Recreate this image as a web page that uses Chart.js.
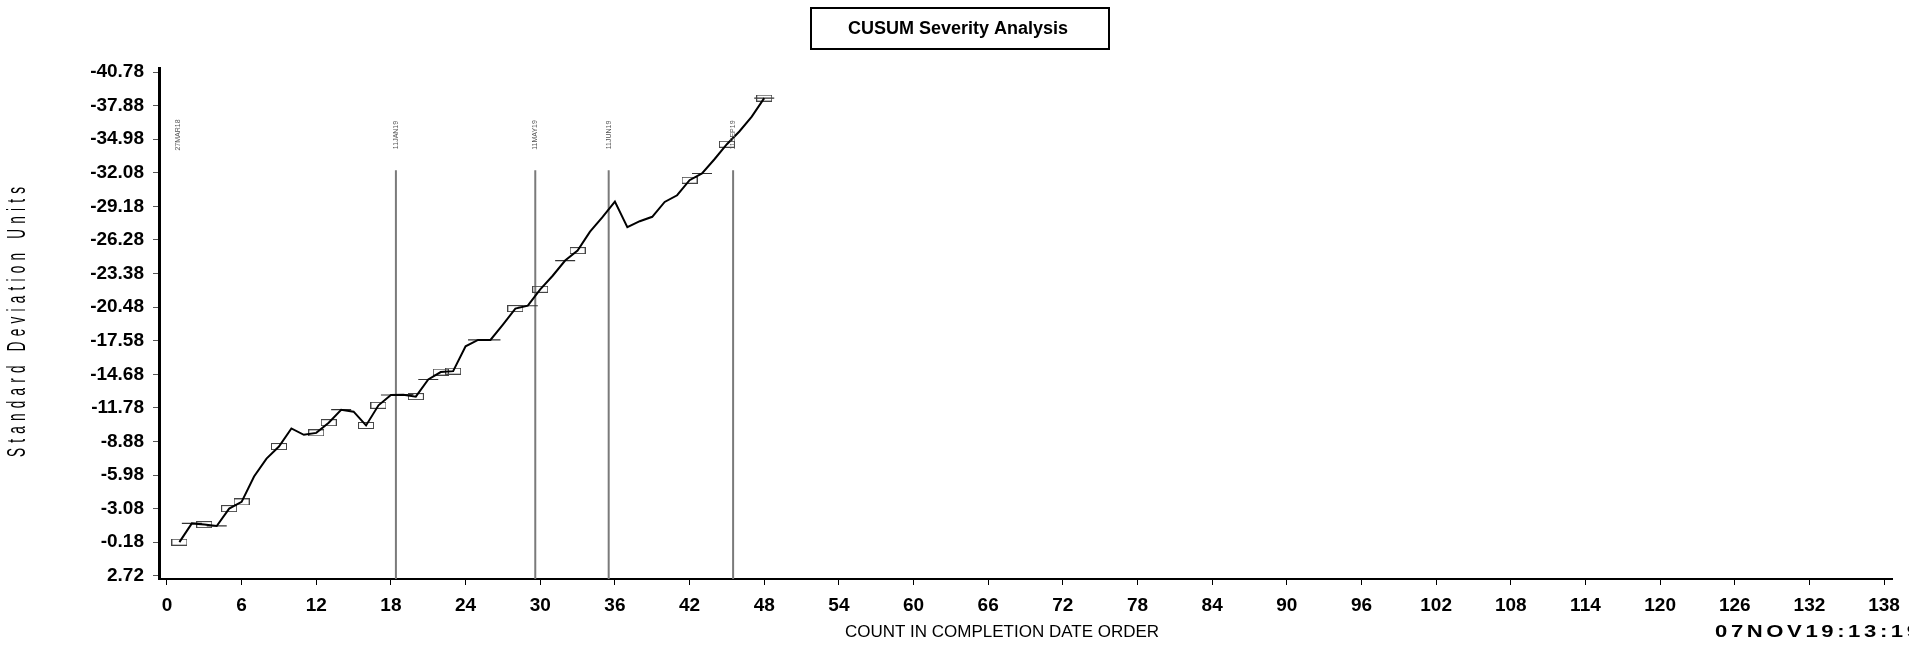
<!DOCTYPE html>
<html>
<head>
<meta charset="utf-8">
<title>CUSUM Severity Analysis</title>
<script src="https://cdn.jsdelivr.net/npm/chart.js@4.4.1/dist/chart.umd.min.js"></script>
<style>
    html, body { margin: 0; padding: 0; background: #fff; }
    #wrap { width: 1909px; height: 645px; position: relative; }
</style>
</head>
<body>
<div id="wrap"><canvas id="cusum-chart"></canvas></div>
<script>
// count in completion date order and the cusum
const counts = [1, 2, 3, 4, 5, 6, 7, 8, 9, 10, 11, 12, 13, 14, 15, 16, 17, 18, 19, 20, 21, 22, 23, 24,
    25, 26, 27, 28, 29, 30, 31, 32, 33, 34, 35, 36, 37, 38, 39, 40, 41, 42, 43, 44, 45, 46, 47, 48];
const cusumValues = [-0.18, -1.80, -1.70, -1.58, -3.08, -3.66, -5.85, -7.40, -8.44, -10.00, -9.45, -9.62,
    -10.50, -11.62, -11.45, -10.26, -12.00, -12.89, -12.92, -12.75, -14.23, -14.87, -14.95, -17.10,
    -17.65, -17.65, -18.97, -20.35, -20.60, -22.02, -23.19, -24.50, -25.36, -27.00, -28.25, -29.60,
    -27.39, -27.90, -28.28, -29.56, -30.14, -31.44, -32.02, -33.25, -34.55, -35.65, -36.93, -38.53];

// counts that carry a box symbol / a dash symbol
const boxCounts = [1, 3, 5, 6, 9, 12, 13, 16, 17, 20, 22, 23, 28, 30, 33, 42, 45, 48];
const dashCounts = [2, 4, 14, 18, 19, 21, 25, 26, 29, 32, 43, 48];

// reference events
const eventLabelCounts = [0.9, 18.4, 29.6, 35.5, 45.5];
const eventLabels = ['27MAR18', '11JAN19', '11MAY19', '11JUN19', '11SEP19'];
const eventLineCounts = [18.4, 29.6, 35.5, 45.5];
const eventLineTop = -32.3;

const yTicks = [-40.78, -37.88, -34.98, -32.08, -29.18, -26.28, -23.38, -20.48, -17.58, -14.68,
    -11.78, -8.88, -5.98, -3.08, -0.18, 2.72];
const xTicks = [0, 6, 12, 18, 24, 30, 36, 42, 48, 54, 60, 66, 72, 78, 84, 90, 96, 102, 108, 114,
    120, 126, 132, 138];

const chartTitle = 'CUSUM Severity Analysis';
const xTitle = 'COUNT IN COMPLETION DATE ORDER';
const yTitle = 'Standard Deviation Units';
const stamp = '07NOV19:13:19';

const X_MIN = -0.64, X_MAX = 138.7;
const Y_MIN = -41.13, Y_MAX = 3.0;

function valueAt(c) {
    return cusumValues[counts.indexOf(c)];
}

// small open rectangle used as the box symbol
function makeBox() {
    const c = document.createElement('canvas');
    c.width = 16;
    c.height = 7;
    const g = c.getContext('2d');
    g.strokeStyle = '#444';
    g.lineWidth = 1;
    g.strokeRect(0.5, 0.5, 15, 6);
    return c;
}

// draw text centred on the origin, squeezed by sx and spaced out to fill len
function fitText(ctx, text, len, sx) {
    ctx.letterSpacing = '0px';
    const w = ctx.measureText(text).width * sx;
    const gap = (len - w) / (text.length - 1) / sx;
    ctx.letterSpacing = gap + 'px';
    ctx.scale(sx, 1);
    ctx.fillText(text, -len / 2 / sx, 0);
    ctx.letterSpacing = '0px';
}

const decorations = {
    id: 'decorations',
    afterDraw(chart) {
        const ctx = chart.ctx;
        const xs = chart.scales.x;

        // title box
        ctx.save();
        ctx.strokeStyle = '#000';
        ctx.lineWidth = 2;
        ctx.strokeRect(811, 8, 298, 41);
        ctx.fillStyle = '#000';
        ctx.font = 'bold 18px "Liberation Sans"';
        ctx.textAlign = 'center';
        ctx.textBaseline = 'middle';
        ctx.fillText(chartTitle, 958, 29);
        ctx.restore();

        // y axis title, narrow and spaced out
        ctx.save();
        ctx.fillStyle = '#000';
        ctx.font = '26px "Liberation Sans"';
        ctx.textAlign = 'left';
        ctx.textBaseline = 'middle';
        ctx.translate(18, 322);
        ctx.rotate(-Math.PI / 2);
        fitText(ctx, yTitle, 270, 0.52);
        ctx.restore();

        // x axis title
        ctx.save();
        ctx.fillStyle = '#000';
        ctx.font = '17px "Liberation Sans"';
        ctx.textAlign = 'center';
        ctx.textBaseline = 'middle';
        ctx.fillText(xTitle, 1002, 632);
        ctx.restore();

        // run time stamp, runs off the right edge
        ctx.save();
        ctx.fillStyle = '#000';
        ctx.font = 'bold 17px "Liberation Sans"';
        ctx.textAlign = 'left';
        ctx.textBaseline = 'middle';
        ctx.translate(1715 + 102, 632);
        fitText(ctx, stamp, 204, 1.3);
        ctx.restore();

        // event labels above the reference lines
        ctx.save();
        ctx.fillStyle = '#555';
        ctx.font = '7px "Liberation Sans"';
        ctx.textAlign = 'center';
        ctx.textBaseline = 'middle';
        eventLabelCounts.forEach((c, i) => {
            ctx.save();
            ctx.translate(xs.getPixelForValue(c), 135);
            ctx.rotate(-Math.PI / 2);
            ctx.fillText(eventLabels[i], 0, 0);
            ctx.restore();
        });
        ctx.restore();
    }
};

const datasets = [
    {
        label: 'CUSUM',
        data: counts.map((c, i) => ({ x: c, y: cusumValues[i] })),
        borderColor: '#000',
        borderWidth: 2,
        pointRadius: 0,
        tension: 0,
        order: 0
    },
    {
        label: 'Box',
        data: boxCounts.map(c => ({ x: c, y: valueAt(c) })),
        showLine: false,
        pointStyle: makeBox(),
        pointRadius: 6,
        order: 1
    },
    {
        label: 'Dash',
        data: dashCounts.map(c => ({ x: c, y: valueAt(c) })),
        showLine: false,
        pointStyle: 'line',
        pointRadius: 10,
        pointBorderColor: '#333',
        pointBorderWidth: 1.2,
        order: 1
    }
];

eventLineCounts.forEach(c => {
    datasets.push({
        label: 'Event ' + c,
        data: [{ x: c, y: eventLineTop }, { x: c, y: Y_MAX }],
        borderColor: '#7a7a7a',
        borderWidth: 2,
        pointRadius: 0,
        order: 3
    });
});

const tickFont = { family: '"Liberation Sans"', size: 19, weight: 'bold' };

new Chart(document.getElementById('cusum-chart'), {
    type: 'line',
    data: { datasets: datasets },
    options: {
        responsive: true,
        maintainAspectRatio: false,
        animation: false,
        layout: { padding: { top: 68, right: 15, left: 0, bottom: 0 } },
        plugins: {
            legend: { display: false },
            tooltip: { enabled: false }
        },
        scales: {
            x: {
                type: 'linear',
                min: X_MIN,
                max: X_MAX,
                afterBuildTicks: scale => { scale.ticks = xTicks.map(v => ({ value: v })); },
                afterFit: scale => { scale.height = 66; },
                ticks: {
                    autoSkip: false,
                    maxRotation: 0,
                    padding: 9,
                    color: '#000',
                    font: tickFont
                },
                grid: { drawOnChartArea: false, tickLength: 6, color: '#000', tickWidth: 1 },
                border: { color: '#000', width: 2 }
            },
            y: {
                type: 'linear',
                reverse: true,
                min: Y_MIN,
                max: Y_MAX,
                afterBuildTicks: scale => { scale.ticks = yTicks.map(v => ({ value: v })); },
                afterFit: scale => { scale.width = 159; },
                ticks: {
                    autoSkip: false,
                    padding: 9,
                    color: '#000',
                    font: tickFont,
                    callback: v => v.toFixed(2)
                },
                grid: { drawOnChartArea: false, tickLength: 6, color: '#555', tickWidth: 1 },
                border: { color: '#000', width: 3 }
            }
        }
    },
    plugins: [decorations]
});
</script>
</body>
</html>
